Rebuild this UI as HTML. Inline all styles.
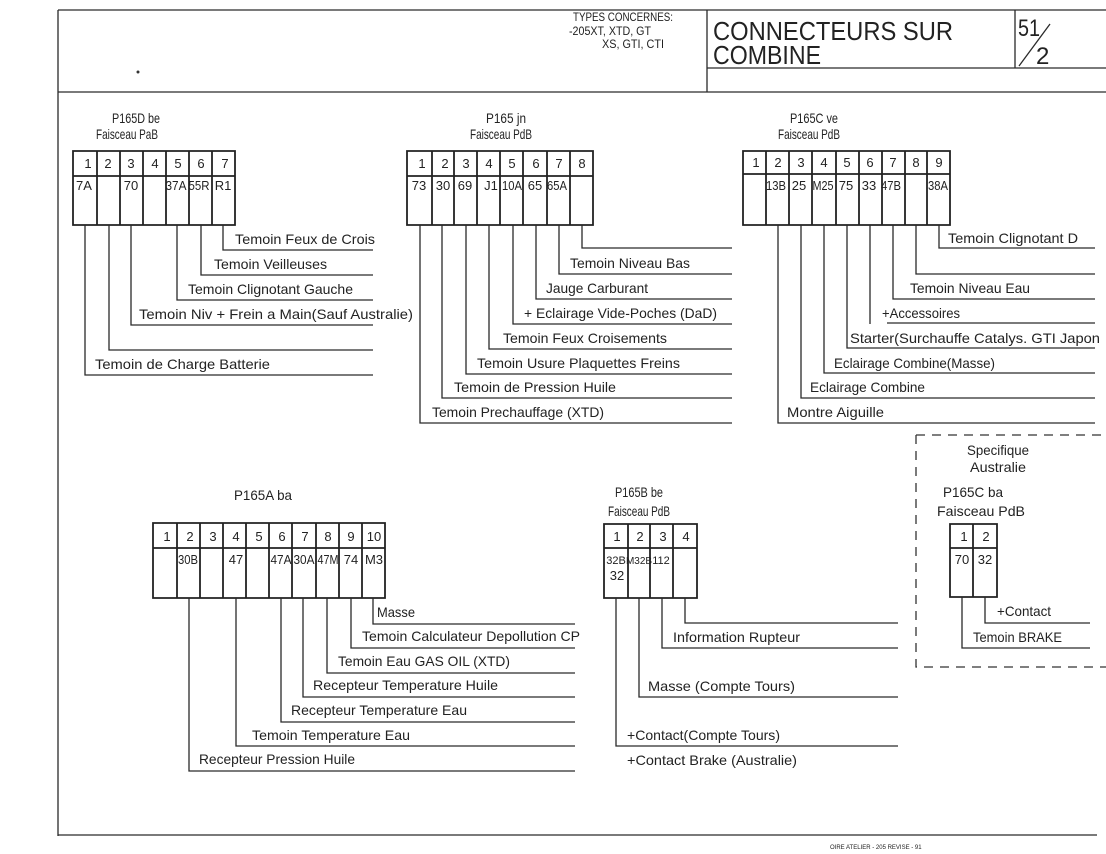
<!DOCTYPE html>
<html><head><meta charset="utf-8"><style>
html,body{margin:0;padding:0;background:#fff;}
svg{display:block;}
text{font-family:"Liberation Sans",sans-serif;fill:#222;}
.l{stroke:#2a2a2a;stroke-width:1.3;fill:none;}
.b{stroke:#222;stroke-width:1.8;fill:none;}
.t{font-size:14px;}
.n{font-size:13px;}
</style></head><body>
<svg width="1106" height="854" viewBox="0 0 1106 854" xmlns="http://www.w3.org/2000/svg">
<!-- frame -->
<path class="l" d="M58 10 H1106 M58 10 V836 M58 92 H1106 M58 835 H1097 M707 10 V92 M707 68 H1106 M1015 10 V68"/>
<text x="573" y="21" font-size="12" textLength="100" lengthAdjust="spacingAndGlyphs">TYPES CONCERNES:</text>
<text x="569" y="35" font-size="12" textLength="82" lengthAdjust="spacingAndGlyphs">-205XT, XTD, GT</text>
<text x="602" y="48" font-size="12" textLength="62" lengthAdjust="spacingAndGlyphs">XS, GTI, CTI</text>
<text x="713" y="40" font-size="26" textLength="240" lengthAdjust="spacingAndGlyphs">CONNECTEURS  SUR</text>
<text x="713" y="64" font-size="26" textLength="108" lengthAdjust="spacingAndGlyphs">COMBINE</text>
<text x="1018" y="36" font-size="24" textLength="22" lengthAdjust="spacingAndGlyphs">51</text>
<path class="l" d="M1019 66 L1050 24"/>
<text x="1036" y="64" font-size="24">2</text>
<circle cx="138" cy="72" r="1.5" fill="#333"/>

<!-- ===== P165D be ===== -->
<text x="112" y="123" class="t" textLength="48" lengthAdjust="spacingAndGlyphs">P165D be</text>
<text x="96" y="139" class="t" textLength="62" lengthAdjust="spacingAndGlyphs">Faisceau PaB</text>
<path class="b" d="M73 151 H235 V225 H73 Z M73 176 H235 M97 151 V225 M120 151 V225 M143 151 V225 M166 151 V225 M189 151 V225 M212 151 V225"/>
<g class="n" text-anchor="middle">
<text x="88" y="168">1</text><text x="108" y="168">2</text><text x="131" y="168">3</text><text x="155" y="168">4</text><text x="178" y="168">5</text><text x="201" y="168">6</text><text x="225" y="168">7</text>
<text x="84" y="190">7A</text><text x="131" y="190">70</text><text x="176" y="190" textLength="21" lengthAdjust="spacingAndGlyphs">37A</text><text x="199" y="190" textLength="21" lengthAdjust="spacingAndGlyphs">55R</text><text x="223" y="190">R1</text>
</g>
<path class="l" d="M223 225 V250 H373 M201 225 V275 H373 M177 225 V300 H373 M131 225 V325 H373 M109 225 V350 H373 M85 225 V375 H373"/>
<text x="235" y="244" class="t" textLength="140" lengthAdjust="spacingAndGlyphs">Temoin Feux de Crois</text>
<text x="214" y="269" class="t" textLength="113" lengthAdjust="spacingAndGlyphs">Temoin Veilleuses</text>
<text x="188" y="294" class="t" textLength="165" lengthAdjust="spacingAndGlyphs">Temoin Clignotant Gauche</text>
<text x="139" y="319" class="t" textLength="274" lengthAdjust="spacingAndGlyphs">Temoin Niv + Frein a Main(Sauf Australie)</text>
<text x="95" y="369" class="t" textLength="175" lengthAdjust="spacingAndGlyphs">Temoin de Charge Batterie</text>

<!-- ===== P165 jn ===== -->
<text x="486" y="123" class="t" textLength="40" lengthAdjust="spacingAndGlyphs">P165 jn</text>
<text x="470" y="139" class="t" textLength="62" lengthAdjust="spacingAndGlyphs">Faisceau PdB</text>
<path class="b" d="M407 151 H593 V225 H407 Z M407 176 H593 M432 151 V225 M454 151 V225 M477 151 V225 M500 151 V225 M523 151 V225 M547 151 V225 M570 151 V225"/>
<g class="n" text-anchor="middle">
<text x="422" y="168">1</text><text x="445" y="168">2</text><text x="466" y="168">3</text><text x="489" y="168">4</text><text x="512" y="168">5</text><text x="536" y="168">6</text><text x="559" y="168">7</text><text x="582" y="168">8</text>
<text x="419" y="190">73</text><text x="443" y="190">30</text><text x="465" y="190">69</text><text x="491" y="190">J1</text><text x="512" y="190" textLength="20" lengthAdjust="spacingAndGlyphs">10A</text><text x="535" y="190">65</text><text x="557" y="190" textLength="20" lengthAdjust="spacingAndGlyphs">65A</text>
</g>
<path class="l" d="M582 225 V248 H732 M559 225 V274 H732 M536 225 V299 H732 M513 225 V324 H732 M489 225 V349 H732 M466 225 V374 H732 M442 225 V398 H732 M420 225 V423 H732"/>
<text x="570" y="268" class="t" textLength="120" lengthAdjust="spacingAndGlyphs">Temoin Niveau Bas</text>
<text x="546" y="293" class="t" textLength="102" lengthAdjust="spacingAndGlyphs">Jauge Carburant</text>
<text x="524" y="318" class="t" textLength="193" lengthAdjust="spacingAndGlyphs">+ Eclairage Vide-Poches (DaD)</text>
<text x="503" y="343" class="t" textLength="164" lengthAdjust="spacingAndGlyphs">Temoin Feux Croisements</text>
<text x="477" y="368" class="t" textLength="203" lengthAdjust="spacingAndGlyphs">Temoin Usure Plaquettes Freins</text>
<text x="454" y="392" class="t" textLength="162" lengthAdjust="spacingAndGlyphs">Temoin de Pression Huile</text>
<text x="432" y="417" class="t" textLength="172" lengthAdjust="spacingAndGlyphs">Temoin Prechauffage (XTD)</text>

<!-- ===== P165C ve ===== -->
<text x="790" y="123" class="t" textLength="48" lengthAdjust="spacingAndGlyphs">P165C ve</text>
<text x="778" y="139" class="t" textLength="62" lengthAdjust="spacingAndGlyphs">Faisceau PdB</text>
<path class="b" d="M743 151 H950 V225 H743 Z M743 174 H950 M766 151 V225 M789 151 V225 M812 151 V225 M836 151 V225 M859 151 V225 M882 151 V225 M905 151 V225 M927 151 V225"/>
<g class="n" text-anchor="middle">
<text x="756" y="167">1</text><text x="778" y="167">2</text><text x="801" y="167">3</text><text x="824" y="167">4</text><text x="847" y="167">5</text><text x="870" y="167">6</text><text x="893" y="167">7</text><text x="916" y="167">8</text><text x="939" y="167">9</text>
<text x="776" y="190" textLength="20" lengthAdjust="spacingAndGlyphs">13B</text><text x="799" y="190">25</text><text x="823" y="190" textLength="21" lengthAdjust="spacingAndGlyphs">M25</text><text x="846" y="190">75</text><text x="869" y="190">33</text><text x="891" y="190" textLength="20" lengthAdjust="spacingAndGlyphs">47B</text><text x="938" y="190" textLength="20" lengthAdjust="spacingAndGlyphs">38A</text>
</g>
<path class="l" d="M939 225 V248 H1095 M916 225 V274 H1095 M893 225 V299 H1095 M870 225 V324 M887 323 H1095 M847 225 V348 H1095 M824 225 V373 H1095 M801 225 V398 H1095 M778 225 V423 H1095"/>
<text x="948" y="243" class="t" textLength="130" lengthAdjust="spacingAndGlyphs">Temoin Clignotant D</text>
<text x="910" y="293" class="t" textLength="120" lengthAdjust="spacingAndGlyphs">Temoin Niveau Eau</text>
<text x="882" y="318" class="t" textLength="78" lengthAdjust="spacingAndGlyphs">+Accessoires</text>
<text x="850" y="343" class="t" textLength="250" lengthAdjust="spacingAndGlyphs">Starter(Surchauffe Catalys. GTI Japon</text>
<text x="834" y="368" class="t" textLength="161" lengthAdjust="spacingAndGlyphs">Eclairage Combine(Masse)</text>
<text x="810" y="392" class="t" textLength="115" lengthAdjust="spacingAndGlyphs">Eclairage Combine</text>
<text x="787" y="417" class="t" textLength="97" lengthAdjust="spacingAndGlyphs">Montre Aiguille</text>

<!-- ===== P165A ba ===== -->
<text x="234" y="500" class="t" textLength="58" lengthAdjust="spacingAndGlyphs">P165A ba</text>
<path class="b" d="M153 523 H385 V598 H153 Z M153 548 H385 M177 523 V598 M200 523 V598 M223 523 V598 M246 523 V598 M269 523 V598 M292 523 V598 M316 523 V598 M339 523 V598 M362 523 V598"/>
<g class="n" text-anchor="middle">
<text x="167" y="541">1</text><text x="190" y="541">2</text><text x="213" y="541">3</text><text x="236" y="541">4</text><text x="259" y="541">5</text><text x="282" y="541">6</text><text x="305" y="541">7</text><text x="328" y="541">8</text><text x="351" y="541">9</text><text x="374" y="541">10</text>
<text x="188" y="564" textLength="20" lengthAdjust="spacingAndGlyphs">30B</text><text x="236" y="564">47</text><text x="281" y="564" textLength="21" lengthAdjust="spacingAndGlyphs">47A</text><text x="304" y="564" textLength="21" lengthAdjust="spacingAndGlyphs">30A</text><text x="328" y="564" textLength="21" lengthAdjust="spacingAndGlyphs">47M</text><text x="351" y="564">74</text><text x="374" y="564">M3</text>
</g>
<path class="l" d="M373 598 V624 H575 M351 598 V648 H575 M327 598 V673 H575 M303 598 V697 H575 M281 598 V722 H575 M236 598 V746 H575 M189 598 V771 H575"/>
<text x="377" y="617" class="t" textLength="38" lengthAdjust="spacingAndGlyphs">Masse</text>
<text x="362" y="641" class="t" textLength="218" lengthAdjust="spacingAndGlyphs">Temoin Calculateur Depollution CP</text>
<text x="338" y="666" class="t" textLength="172" lengthAdjust="spacingAndGlyphs">Temoin Eau GAS OIL (XTD)</text>
<text x="313" y="690" class="t" textLength="185" lengthAdjust="spacingAndGlyphs">Recepteur Temperature Huile</text>
<text x="291" y="715" class="t" textLength="176" lengthAdjust="spacingAndGlyphs">Recepteur Temperature Eau</text>
<text x="252" y="740" class="t" textLength="158" lengthAdjust="spacingAndGlyphs">Temoin Temperature Eau</text>
<text x="199" y="764" class="t" textLength="156" lengthAdjust="spacingAndGlyphs">Recepteur Pression Huile</text>

<!-- ===== P165B be ===== -->
<text x="615" y="497" class="t" textLength="48" lengthAdjust="spacingAndGlyphs">P165B be</text>
<text x="608" y="516" class="t" textLength="62" lengthAdjust="spacingAndGlyphs">Faisceau PdB</text>
<path class="b" d="M604 524 H697 V598 H604 Z M604 548 H697 M628 524 V598 M650 524 V598 M673 524 V598"/>
<g class="n" text-anchor="middle">
<text x="617" y="541">1</text><text x="640" y="541">2</text><text x="663" y="541">3</text><text x="686" y="541">4</text>
<text x="616" y="564" font-size="11">32B</text><text x="617" y="580">32</text><text x="639" y="564" font-size="10">M32B</text><text x="661" y="564" font-size="11">112</text>
</g>
<path class="l" d="M685 598 V623 H898 M662 598 V648 H898 M639 598 V697 H898 M616 598 V746 H898"/>
<text x="673" y="642" class="t" textLength="127" lengthAdjust="spacingAndGlyphs">Information Rupteur</text>
<text x="648" y="691" class="t" textLength="147" lengthAdjust="spacingAndGlyphs">Masse (Compte Tours)</text>
<text x="627" y="740" class="t" textLength="153" lengthAdjust="spacingAndGlyphs">+Contact(Compte Tours)</text>
<text x="627" y="765" class="t" textLength="170" lengthAdjust="spacingAndGlyphs">+Contact Brake (Australie)</text>

<!-- ===== Specifique Australie ===== -->
<path d="M916 435 H1106 M916 435 V667 H1106" stroke="#333" stroke-width="1.3" fill="none" stroke-dasharray="9 7"/>
<text x="998" y="455" class="t" text-anchor="middle" textLength="62" lengthAdjust="spacingAndGlyphs">Specifique</text>
<text x="998" y="472" class="t" text-anchor="middle" textLength="56" lengthAdjust="spacingAndGlyphs">Australie</text>
<text x="943" y="497" class="t" textLength="60" lengthAdjust="spacingAndGlyphs">P165C ba</text>
<text x="937" y="516" class="t" textLength="88" lengthAdjust="spacingAndGlyphs">Faisceau  PdB</text>
<path class="b" d="M950 524 H997 V597 H950 Z M950 548 H997 M973 524 V597"/>
<g class="n" text-anchor="middle">
<text x="964" y="541">1</text><text x="986" y="541">2</text>
<text x="962" y="564">70</text><text x="985" y="564">32</text>
</g>
<path class="l" d="M985 597 V623 H1090 M962 597 V648 H1090"/>
<text x="997" y="616" class="t" textLength="54" lengthAdjust="spacingAndGlyphs">+Contact</text>
<text x="973" y="642" class="t" textLength="89" lengthAdjust="spacingAndGlyphs">Temoin BRAKE</text>

<text x="830" y="849" font-size="6" fill="#555">OIRE ATELIER - 205 REVISE - 91</text>
</svg>
</body></html>
